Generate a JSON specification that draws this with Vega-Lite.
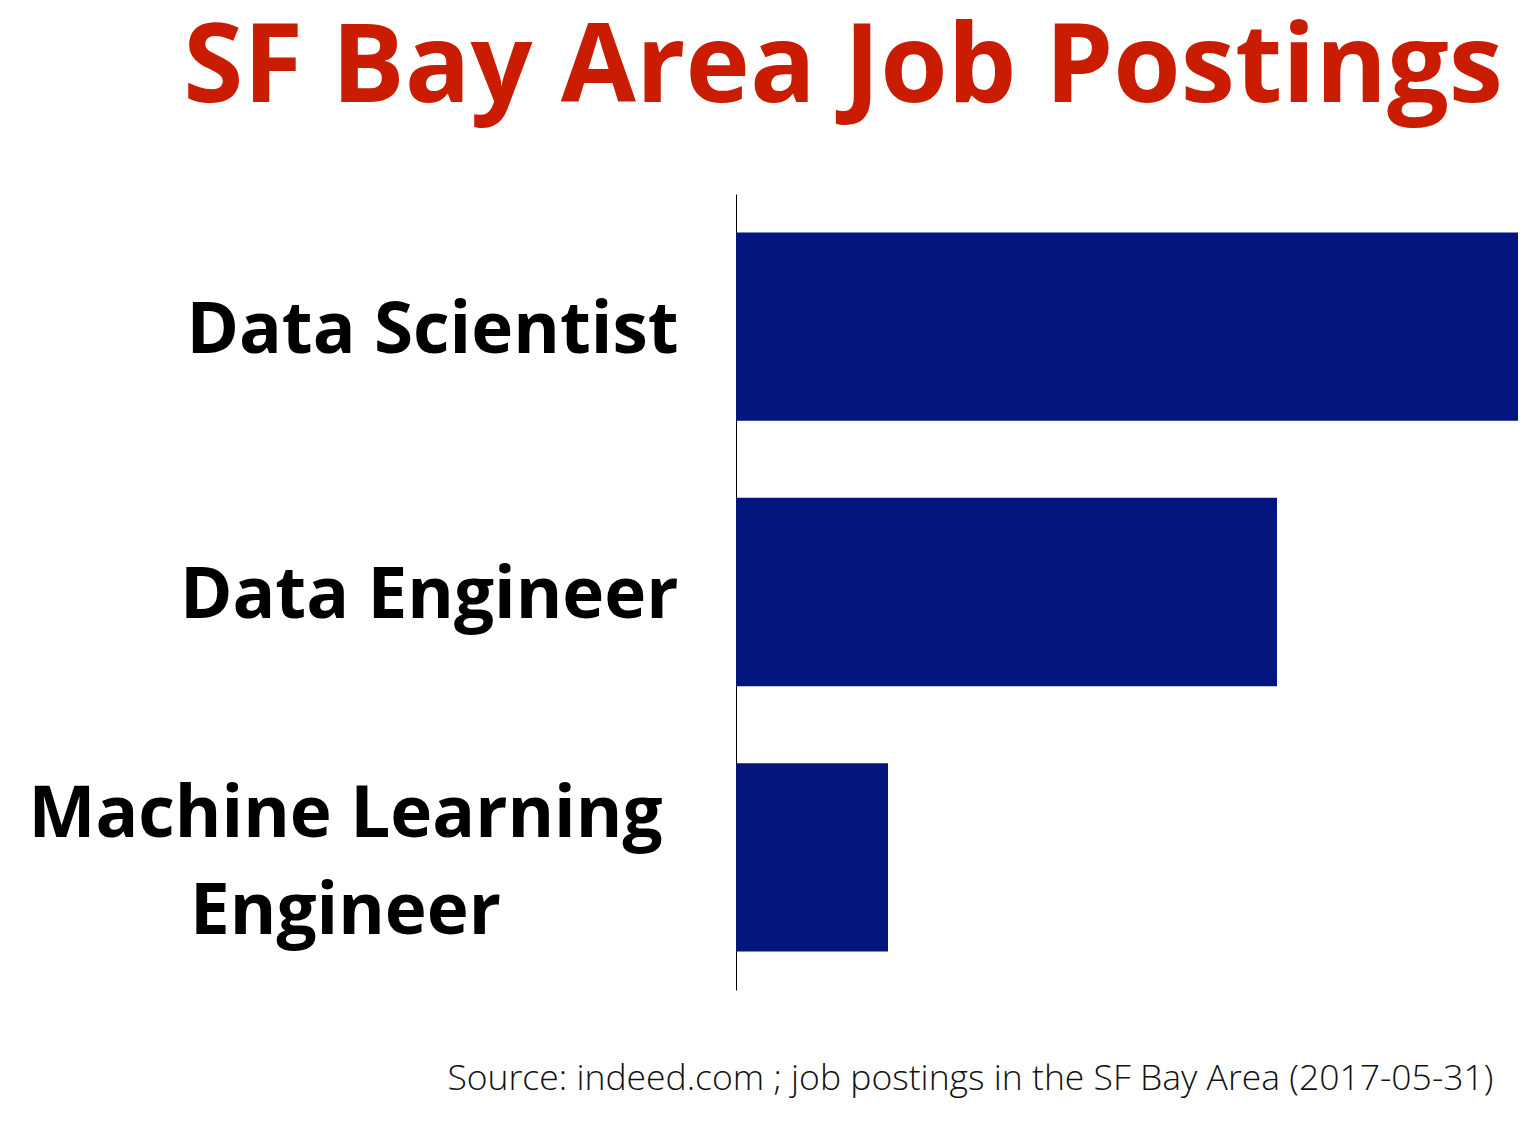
{
  "$schema": "https://vega.github.io/schema/vega-lite/v6.json",
  "width": 782,
  "height": 796,
  "autosize": "none",
  "padding": {"left": 736, "top": 194, "right": 20, "bottom": 132},
  "background": "white",
  "title": {
    "text": "SF Bay Area Job Postings",
    "font": "Open Sans",
    "fontWeight": "bold",
    "fontSize": 109,
    "color": "#C91C00",
    "anchor": "end",
    "frame": "group",
    "baseline": "alphabetic",
    "offset": -17,
    "dx": -15
  },
  "data": {
    "values": [
      {"job": "Data Scientist", "postings": 782},
      {"job": "Data Engineer", "postings": 541},
      {"job": "Machine Learning Engineer", "postings": 152}
    ]
  },
  "config": {"view": {"stroke": null}},
  "mark": {"type": "bar", "color": "#03157E"},
  "encoding": {
    "y": {
      "field": "job",
      "type": "nominal",
      "sort": null,
      "scale": {"paddingInner": 0.29, "paddingOuter": 0.145},
      "axis": {
        "title": null,
        "ticks": false,
        "domain": true,
        "domainColor": "black",
        "domainWidth": 1,
        "labelPadding": {"condition": {"test": "datum.value == 'Machine Learning Engineer'", "value": 391}, "value": 58},
        "labelFont": "Open Sans",
        "labelFontWeight": "bold",
        "labelFontSize": 71,
        "labelColor": "black",
        "labelLimit": 0,
        "labelLineHeight": 97,
        "labelBaseline": "middle",
        "labelOffset": {"condition": {"test": "datum.value == 'Machine Learning Engineer'", "value": -41}, "value": 5},
        "labelAlign": {"condition": {"test": "datum.value == 'Machine Learning Engineer'", "value": "center"}, "value": "right"},
        "labelExpr": "datum.value == 'Machine Learning Engineer' ? ['Machine Learning', 'Engineer'] : datum.label"
      }
    },
    "x": {
      "field": "postings",
      "type": "quantitative",
      "scale": {"domain": [0, 782], "nice": false},
      "axis": {
        "domain": false,
        "ticks": false,
        "labels": false,
        "grid": false,
        "title": "Source: indeed.com ; job postings in the SF Bay Area (2017-05-31)",
        "titleFont": "Open Sans",
        "titleFontWeight": 300,
        "titleFontSize": 35.5,
        "titleColor": "#111111",
        "titleAlign": "right",
        "titleAnchor": "end",
        "titleBaseline": "alphabetic",
        "titleX": 757,
        "titleY": 99
      }
    }
  }
}
